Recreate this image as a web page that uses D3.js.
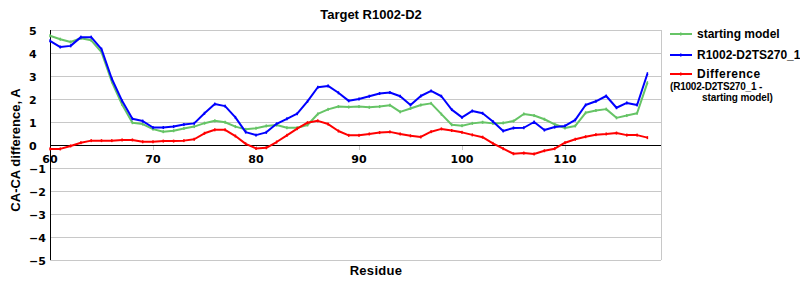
<!DOCTYPE html>
<html><head><meta charset="utf-8">
<script src="https://cdn.jsdelivr.net/npm/d3@7"></script>
<style>body{margin:0;background:#fff}svg{display:block}</style>
</head><body>
<svg id="c" width="800" height="300"></svg>
<script>
const residues = d3.range(60, 119);
const startingModel = [4.75,4.6,4.48,4.64,4.55,4.04,2.75,1.76,0.97,0.91,0.69,0.58,0.62,0.72,0.8,0.95,1.05,0.99,0.8,0.68,0.73,0.83,0.87,0.75,0.75,0.87,1.35,1.55,1.67,1.65,1.67,1.64,1.67,1.73,1.44,1.59,1.74,1.81,1.34,0.88,0.84,0.94,0.99,0.94,0.96,1.04,1.35,1.28,1.12,0.9,0.74,0.83,1.4,1.5,1.56,1.18,1.28,1.38,2.71];
const modelTS270 = [4.53,4.26,4.31,4.69,4.69,4.17,2.88,1.92,1.14,1.04,0.76,0.76,0.8,0.89,0.94,1.38,1.78,1.69,1.2,0.56,0.43,0.55,0.92,1.14,1.36,1.9,2.51,2.57,2.27,1.92,2.0,2.12,2.24,2.28,2.12,1.74,2.13,2.35,2.12,1.54,1.2,1.48,1.38,1.02,0.61,0.74,0.75,1.0,0.65,0.78,0.83,1.09,1.74,1.9,2.13,1.62,1.83,1.74,3.1];
const difference = [-0.17,-0.17,-0.04,0.1,0.19,0.19,0.19,0.22,0.22,0.14,0.14,0.17,0.17,0.19,0.25,0.51,0.66,0.66,0.39,0.05,-0.15,-0.12,0.13,0.42,0.71,0.97,1.05,0.91,0.61,0.42,0.42,0.48,0.54,0.57,0.48,0.4,0.35,0.58,0.7,0.63,0.55,0.44,0.34,0.07,-0.16,-0.38,-0.35,-0.39,-0.25,-0.16,0.1,0.25,0.36,0.45,0.48,0.52,0.43,0.43,0.32];
const xTicks = [60,70,80,90,100,110];
const yTicks = [5,4,3,2,1,0,-1,-2,-3,-4,-5];
const seriesNames = ["starting model","R1002-D2TS270_1","Difference"];
const seriesColors = ["#66c466","#0000ff","#ff0000"];

const svg = d3.select("#c");
const L = 50, R = 661, T = 30, B = 260;
const x = d3.scaleLinear().domain([60, 60 + (R - L) / 10.3]).range([L, R]);
const y = d3.scaleLinear().domain([-5, 5]).range([B, T]);
const font = "'Liberation Sans', Arial, sans-serif";

// gridlines
svg.append("g").selectAll("line").data(yTicks.filter(d => d !== 0)).join("line")
  .attr("x1", L).attr("x2", R).attr("y1", d => y(d)).attr("y2", d => y(d))
  .attr("stroke", "#c8c8c8").attr("stroke-width", 1).attr("shape-rendering", "crispEdges");
svg.append("line").attr("x1", R).attr("x2", R).attr("y1", T).attr("y2", B)
  .attr("stroke", "#c8c8c8").attr("shape-rendering", "crispEdges");

// x tick marks at zero line
svg.append("g").selectAll("line").data(xTicks).join("line")
  .attr("x1", d => x(d)).attr("x2", d => x(d)).attr("y1", y(0)).attr("y2", y(0) + 5)
  .attr("stroke", "#c8c8c8").attr("shape-rendering", "crispEdges");
// zero line & left axis
svg.append("line").attr("x1", L).attr("x2", R).attr("y1", y(0)).attr("y2", y(0))
  .attr("stroke", "#000").attr("shape-rendering", "crispEdges");
svg.append("line").attr("x1", L).attr("x2", L).attr("y1", T).attr("y2", B)
  .attr("stroke", "#000").attr("shape-rendering", "crispEdges");

// tick labels
svg.append("g").selectAll("text").data(yTicks).join("text")
  .attr("x", 29).attr("y", d => y(d) + 4.5)
  .attr("font-family", "'DejaVu Sans', Verdana, sans-serif").attr("font-weight", "bold").attr("font-size", 11)
  .text(d => d < 0 ? "\u2212" + Math.abs(d) : d);
svg.append("g").selectAll("text").data(xTicks).join("text")
  .attr("x", d => x(d)).attr("y", y(0) + 17.5).attr("text-anchor", "middle")
  .attr("font-family", "'DejaVu Sans', Verdana, sans-serif").attr("font-weight", "bold").attr("font-size", 11)
  .text(d => d);

// series
const seriesData = [startingModel, modelTS270, difference];
const line = d3.line().x((d, i) => x(residues[i])).y(d => y(d));
seriesData.forEach((vals, k) => {
  svg.append("path").datum(vals).attr("d", line).attr("fill", "none")
    .attr("stroke", seriesColors[k]).attr("stroke-width", 2).attr("stroke-linejoin", "round");
  svg.append("g").selectAll("rect").data(vals).join("rect")
    .attr("x", (d, i) => x(residues[i]) - 0.75).attr("y", d => y(d) - 1.5)
    .attr("width", 1.5).attr("height", 3).attr("fill", seriesColors[k]);
});

// titles
svg.append("text").attr("x", 371).attr("y", 19).attr("text-anchor", "middle")
  .attr("font-family", font).attr("font-weight", "bold").attr("font-size", 13).text("Target R1002-D2");
svg.append("text").attr("x", 376).attr("y", 275).attr("text-anchor", "middle")
  .attr("font-family", font).attr("font-weight", "bold").attr("font-size", 13).attr("letter-spacing", 0.3).text("Residue");
svg.append("text").attr("transform", "translate(20,150) rotate(-90)").attr("text-anchor", "middle")
  .attr("font-family", font).attr("font-weight", "bold").attr("font-size", 13).text("CA-CA difference, A");

// legend
const legY = [34, 55, 74];
const leg = svg.append("g");
seriesNames.forEach((n, k) => {
  leg.append("line").attr("x1", 670).attr("x2", 692).attr("y1", legY[k]).attr("y2", legY[k])
    .attr("stroke", seriesColors[k]).attr("stroke-width", 2);
  leg.append("rect").attr("x", 680).attr("y", legY[k] - 1.5).attr("width", 1.5).attr("height", 3).attr("fill", seriesColors[k]);
  leg.append("text").attr("x", 697).attr("y", legY[k] + 4)
    .attr("font-family", font).attr("font-weight", "bold").attr("font-size", 12)
    .attr("letter-spacing", k === 2 ? 0.5 : 0).text(n);
});
leg.append("text").attr("x", 670).attr("y", 90).attr("font-family", font).attr("font-weight", "bold")
  .attr("font-size", 10).attr("letter-spacing", -0.2).text("(R1002-D2TS270_1 -");
leg.append("text").attr("x", 702).attr("y", 101).attr("font-family", font).attr("font-weight", "bold")
  .attr("font-size", 10).attr("letter-spacing", -0.1).text("starting model)");
</script>
</body></html>
